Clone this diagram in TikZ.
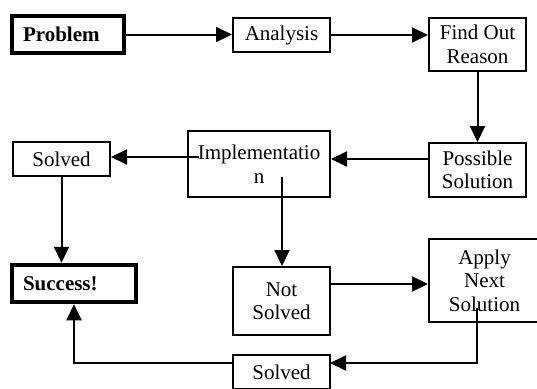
\documentclass[tikz,border=0pt]{standalone}
\usepackage{fontspec}
\setmainfont{Liberation Serif}
\usetikzlibrary{arrows.meta}

\begin{document}
\begin{tikzpicture}[x=1pt,y=-1pt,
  font=\fontsize{21}{23.5}\selectfont,
  box/.style={draw,line width=2pt,align=center,inner sep=0pt},
  endbox/.style={draw,line width=4.5pt,font=\fontsize{21}{23.5}\selectfont\bfseries,
    align=left,inner xsep=11pt,inner ysep=0pt},
  flow/.style={line width=2pt,-{Triangle[length=16pt,width=15pt]}}]
\useasboundingbox (0,0) rectangle (537,388);
\node[endbox,minimum width=112,minimum height=37,text width=90] (prob) at (68,34.5) {Problem};
\node[box,minimum width=97,minimum height=34] (ana) at (281.5,35) {Analysis};
\node[box,minimum width=97,minimum height=53] (find) at (477.5,44.5) {Find Out\\Reason};
\node[box,minimum width=97,minimum height=54] (poss) at (477.5,170) {Possible\\Solution};
\node[box,minimum width=142,minimum height=66] (impl) at (259,164) {Implementatio\\n};
\node[box,minimum width=97,minimum height=34] (solvA) at (61.5,159) {Solved};
\node[endbox,minimum width=124,minimum height=37,text width=102] (succ) at (74,283.5) {Success!};
\node[box,minimum width=97,minimum height=68] (nots) at (281.5,301) {Not\\Solved};
\node[box,minimum width=111,minimum height=83] (apply) at (484.5,280.5) {Apply\\Next\\Solution};
\node[box,minimum width=97,minimum height=34] (solvB) at (281.5,372) {Solved};
% free ends of the lines
\coordinate (implL) at (199,157);
\coordinate (implD) at (282,177);
\coordinate (possL) at (428,159);
\coordinate (notsR) at (330,284);
\coordinate (applyD) at (477,308);
\coordinate (solvBR) at (330,363);
\coordinate (solvBL) at (233,363);
\draw[flow] (prob.east) -- (prob.east -| ana.west);
\draw[flow] (ana.east) -- (ana.east -| find.west);
\draw[flow] (find.south) -- (poss.north);
\draw[flow] (possL) -- (possL -| impl.east);
\draw[flow] (implL) -- (implL -| solvA.east);
\draw[flow] (implD) -- (implD |- nots.north);
\draw[flow] (solvA.south) -- (solvA.south |- succ.north);
\draw[flow] (notsR) -- (notsR -| apply.west);
\draw[flow] (applyD) |- (solvBR);
\draw[flow] (solvBL) -| (succ.south);
\end{tikzpicture}
\end{document}
